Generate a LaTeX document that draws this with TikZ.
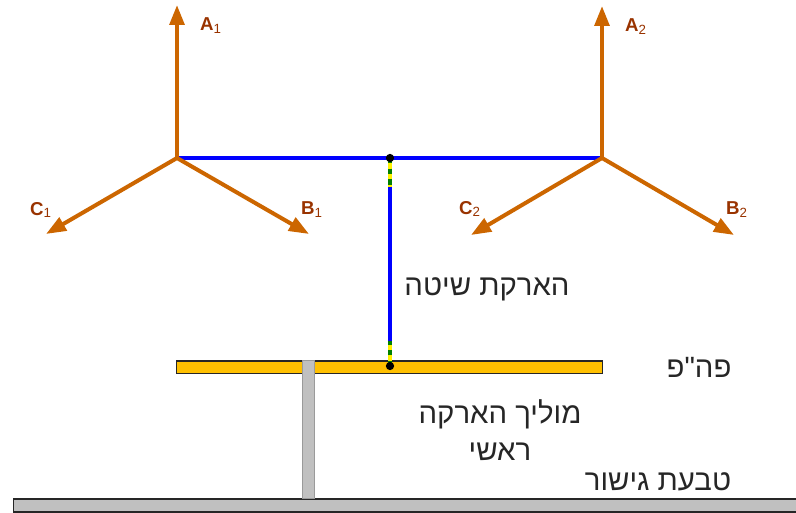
\documentclass[tikz,border=0pt]{standalone}
\usepackage{fontspec}
\setmainfont{Liberation Sans}
\newfontfamily\hebf[Script=Hebrew]{Liberation Sans}
\TeXXeTstate=1
\usetikzlibrary{arrows.meta}
\definecolor{vecc}{HTML}{CC6600}
\definecolor{lblc}{HTML}{993300}
\definecolor{barc}{HTML}{FFC000}
\definecolor{greyc}{HTML}{C0C0C0}
\definecolor{greenc}{HTML}{008000}
\tikzset{
  vec/.style={draw=vecc,line width=3pt,-{Triangle[length=15pt,width=11pt]}},
  phase/.style={text=lblc,font=\fontsize{14}{16}\selectfont\bfseries,inner sep=0pt},
  blue line/.style={draw=blue,line width=3pt},
  tie/.style={draw=yellow,line width=2.6pt},
  tiedash/.style={draw=greenc,line width=2.6pt,dash pattern=on 4pt off 4pt},
  dotn/.style={circle,fill=black,inner sep=0pt,minimum size=6.2pt},
  heb/.style={font=\hebf\fontsize{22}{25}\selectfont,text=black!85,inner sep=0pt},
  busbar/.style={draw=black!85,line width=1.2pt}
}
\newcommand{\subn}[1]{\textsubscript{\fontsize{10}{10}\selectfont\mdseries #1}}
\begin{document}
\begin{tikzpicture}[x=0.75pt,y=-0.75pt]
\useasboundingbox (0,0) rectangle (796,513);
\coordinate (N1) at (177,158);
\coordinate (N2) at (602,158);
\coordinate (M) at (390,158);
\coordinate (G) at (390,366);
\coordinate (A1t) at (177,5);
\coordinate (B1t) at (309,234);
\coordinate (C1t) at (46,234);
\coordinate (A2t) at (602,6);
\coordinate (B2t) at (734,235);
\coordinate (C2t) at (471,235);
\coordinate (M1) at (390,187);
\coordinate (G1) at (390,341);
\node[busbar,fill=greyc,minimum width=783*0.75pt,minimum height=13*0.75pt,inner sep=0pt,anchor=north west] (ground) at (12.5,498) {};
\node[busbar,fill=barc,minimum width=426*0.75pt,minimum height=12.5*0.75pt,inner sep=0pt,anchor=north west] (pen) at (175.5,360) {};
\node[draw=greyc!80!black,line width=0.6pt,fill=greyc,minimum width=11.5*0.75pt,minimum height=138*0.75pt,inner sep=0pt,anchor=north west] (stem) at (302,360) {};
\draw[blue line] (N1) -- (N2);
\draw[blue line] (M) -- (G);
\draw[tie] (M) -- (M1);
\draw[tiedash] (M) -- (M1);
\draw[tie] (G) -- (G1);
\draw[tiedash] (G) -- (G1);
\node[dotn] (dm) at (M) {};
\node[dotn] (dg) at (G) {};
\draw[vec] (N1) -- (A1t);
\draw[vec] (N1) -- (B1t);
\draw[vec] (N1) -- (C1t);
\draw[vec] (N2) -- (A2t);
\draw[vec] (N2) -- (B2t);
\draw[vec] (N2) -- (C2t);
\node[phase] (a1) at (211,26) {A\subn{1}};
\node[phase] (b1) at (312,210) {B\subn{1}};
\node[phase] (c1) at (41,210) {C\subn{1}};
\node[phase] (a2) at (636,27) {A\subn{2}};
\node[phase] (b2) at (737,210) {B\subn{2}};
\node[phase] (c2) at (470,209) {C\subn{2}};
\node[heb] (t1) at (487,289) {\beginR הארקת שיטה\endR};
\node[heb] (t2) at (699,367) {\beginR פה"פ\endR};
\node[heb] (t3) at (500,414) {\beginR מוליך הארקה\endR};
\node[heb] (t4) at (500,452) {\beginR ראשי\endR};
\node[heb] (t5) at (658,482) {\beginR טבעת גישור\endR};
\end{tikzpicture}
\end{document}
